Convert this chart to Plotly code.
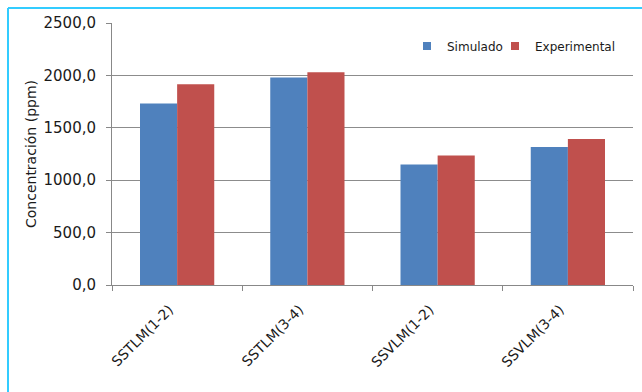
import plotly.graph_objects as go

categories = ["SSTLM(1-2)", "SSTLM(3-4)", "SSVLM(1-2)", "SSVLM(3-4)"]
simulado = [1731, 1981, 1149, 1316]
experimental = [1915, 2029, 1235, 1392]
series_names = ["Simulado", "Experimental"]
colors = ["#4F81BD", "#C0504D"]

W, H = 642, 392
L, R, T, B = 112, 9, 23, 107
pw, ph = W - L - R, H - T - B

font = "DejaVu Sans, Verdana, sans-serif"
txt = "#1a1a1a"

def px_x(p):
    return (p - L) / pw

def px_y(p):
    return (H - B - p) / ph

fig = go.Figure()
for name, vals, col in zip(series_names, [simulado, experimental], colors):
    fig.add_trace(go.Bar(name=name, x=categories, y=vals, marker_color=col,
                         marker_line_width=0, showlegend=False))
# legend entries with small square markers, each in its own legend box
legend_ids = ["legend", "legend2"]
for name, col, lid in zip(series_names, colors, legend_ids):
    fig.add_trace(go.Scatter(name=name, x=[None], y=[None], mode="markers",
                             marker=dict(symbol="square", size=8, color=col),
                             showlegend=True, legend=lid))

leg_common = dict(orientation="h", xanchor="left", yanchor="middle",
                  font=dict(size=12, color=txt), bgcolor="rgba(0,0,0,0)",
                  itemwidth=30, borderwidth=0)

fig.update_layout(
    width=W, height=H,
    margin=dict(l=L, r=R, t=T, b=B, autoexpand=False),
    paper_bgcolor="white", plot_bgcolor="white",
    barmode="group", bargap=0.43, bargroupgap=0,
    separators=",.",
    font=dict(family=font, size=12, color=txt),
    legend=dict(x=px_x(407), y=px_y(46), **leg_common),
    legend2=dict(x=px_x(495), y=px_y(46), **leg_common),
    xaxis=dict(showline=True, linecolor="#888888", linewidth=1, ticks="outside",
               tickson="boundaries", ticklen=5, tickcolor="#888888",
               tickangle=-45, tickfont=dict(size=14, color=txt), showgrid=False,
               ticklabelstandoff=10, ticklabelshift=-8),
    yaxis=dict(range=[0, 2500], dtick=500, tickformat=".1f", showline=True,
               linecolor="#888888", linewidth=1, ticks="outside", ticklen=5,
               tickcolor="#888888", showgrid=True, gridcolor="#8c8c8c", gridwidth=1,
               tickfont=dict(size=15, color=txt), ticklabelstandoff=7,
               title=dict(text="Concentración (ppm)", font=dict(size=14, color=txt), standoff=3),
               zeroline=False),
    shapes=[
        dict(type="line", xref="paper", yref="paper", x0=px_x(8), x1=px_x(660),
             y0=px_y(8), y1=px_y(8), line=dict(color="#33CCFF", width=2)),
        dict(type="line", xref="paper", yref="paper", x0=px_x(8), x1=px_x(8),
             y0=px_y(8), y1=px_y(400), line=dict(color="#33CCFF", width=2)),
    ],
)

fig.write_html("out.html")
